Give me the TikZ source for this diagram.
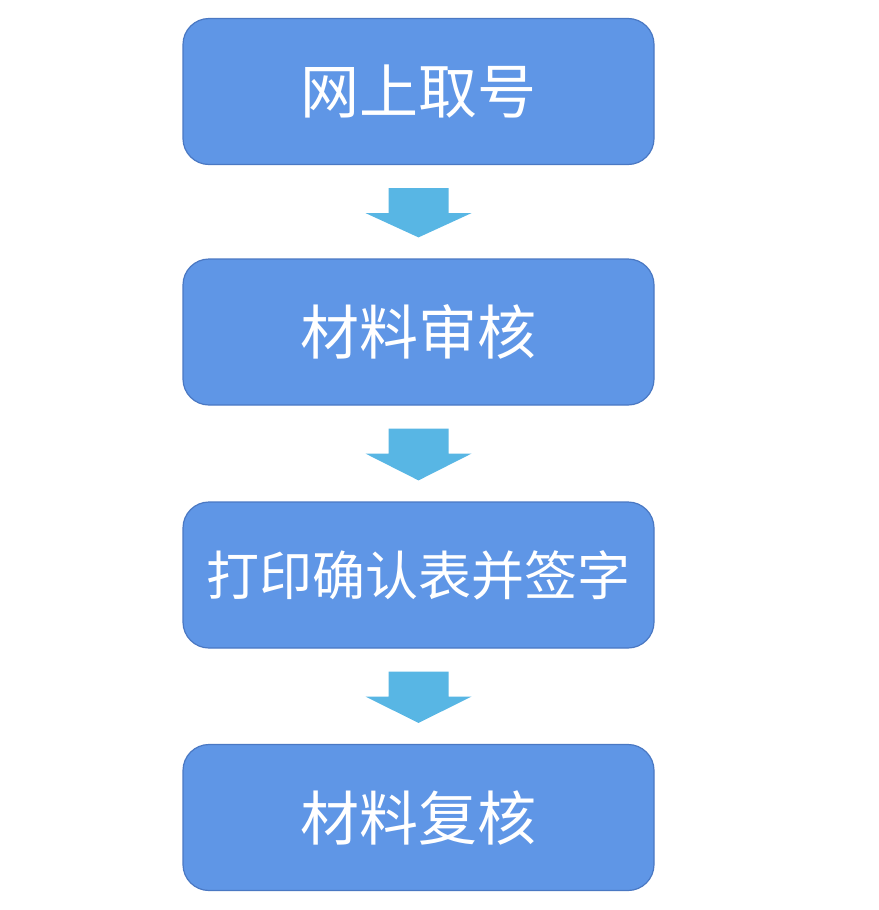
\documentclass[tikz,border=0pt]{standalone}
\usepackage{fontspec}
\newfontfamily\cjk{Noto Sans CJK SC}
\usetikzlibrary{calc}
\definecolor{boxfill}{RGB}{95,150,230}
\definecolor{boxedge}{RGB}{74,120,195}
\definecolor{arrowfill}{RGB}{88,182,228}
\tikzset{
  stepbox/.style={draw=boxedge, line width=1.2pt, fill=boxfill, rounded corners=26pt,
    minimum width=471pt, minimum height=146pt, inner sep=0pt, text=white,
    font=\cjk\fontsize{59}{63}\selectfont},
  blockarrow/.style={fill=arrowfill, draw=none}
}
\begin{document}
\begin{tikzpicture}[x=1pt,y=-1pt]
\useasboundingbox (0,0) rectangle (878,910);
\node[stepbox] (b1) at (418.5,91.5) {网上取号};
\node[stepbox] (b2) at (418.5,332) {材料审核};
\node[stepbox, font=\cjk\fontsize{53}{57}\selectfont] (b3) at (418.5,575) {打印确认表并签字};
\node[stepbox] (b4) at (418.5,817.5) {材料复核};
\foreach \u/\v in {b1/b2, b2/b3, b3/b4}{
  \fill[blockarrow]
    ($(\u.south)+(-30,23)$) -- ++(60,0) -- ++(0,25) -- ++(23,0)
    -- ($(\v.north)+(0,-21)$)
    -- ($(\u.south)+(-53,48)$) -- ++(23,0) -- cycle;
}
\end{tikzpicture}
\end{document}
